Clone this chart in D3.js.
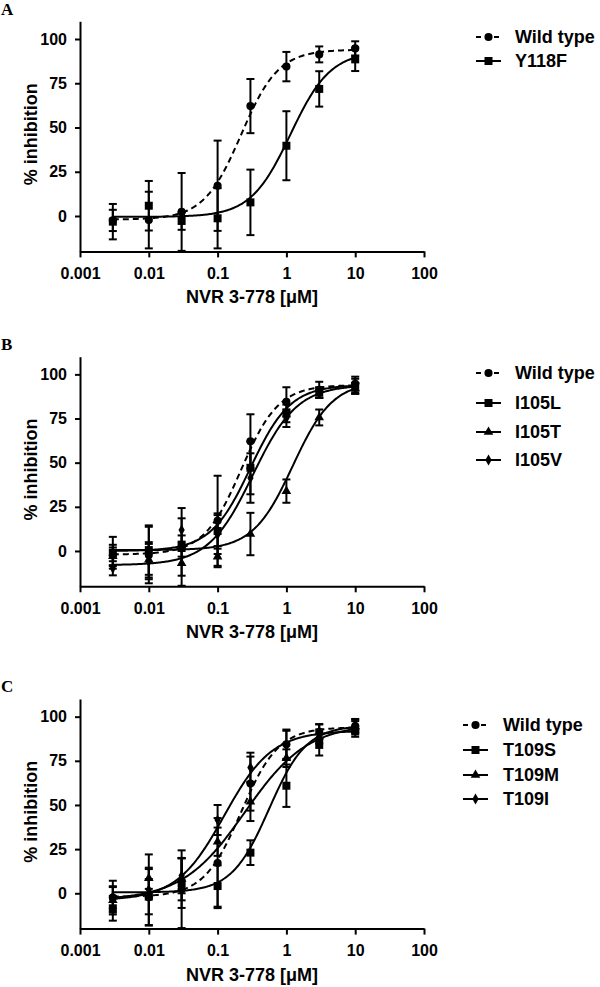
<!DOCTYPE html>
<html><head><meta charset="utf-8">
<script src="https://cdn.jsdelivr.net/npm/d3@7"></script>
<style>body{margin:0;background:#fff}</style>
</head><body><svg id="c" width="600" height="987"></svg>
<script>
// ---------- data ----------
const conc = [0.003, 0.01, 0.03, 0.1, 0.3, 1, 3, 10];
const xTicks = [0.001, 0.01, 0.1, 1, 10, 100];
const xTickLabels = ["0.001", "0.01", "0.1", "1", "10", "100"];
const yTicks = [0, 25, 50, 75, 100];
const panelLabels = ["A", "B", "C"];
const xTitle = "NVR 3-778 [\u03BCM]";
const yTitle = "% inhibition";

const wtMean = [-2.5, -2.3, 2.3, 17.1, 62.1, 84.4, 91.3, 94.7];
const wtErr  = [6, 16, 22, 25.5, 15.3, 8.3, 4.5, 4];
const y118fMean = [-3.2, 5.8, -2.8, -1.3, 7.7, 39.7, 71.8, 88.5];
const y118fErr  = [10, 14, 5, 17, 18.5, 19.5, 10, 6.6];

const i105lMean = [-1, 0.5, 2.8, 11.3, 47.1, 77.9, 89.6, 93.5];
const i105lErr  = [9, 14, 6, 10, 15, 5, 3, 4];
const i105tMean = [-3, -5, -7, -3.2, 9.6, 33.9, 75.6, 92];
const i105tErr  = [5, 10, 7, 6, 12, 6.6, 4.5, 3];
const i105vMean = [-9.8, -6, 11.9, 9.3, 41.3, 75.2, 89.6, 92];
const i105vErr  = [4, 10, 6.6, 11, 14, 5, 3, 3];

const t109sMean = [-8.5, -1.9, 5.7, 4.1, 23, 60.9, 84, 91.6];
const t109sErr  = [7, 10, 14, 11.7, 7, 12, 6, 3];
const t109mMean = [-4, 8.5, 8, 29.2, 51.9, 76.5, 88.8, 94.5];
const t109mErr  = [8, 6, 12, 8, 11, 5, 4, 3];
const t109iMean = [-1.9, 2, 10, 41.5, 71.2, 84, 91.6, 95.4];
const t109iErr  = [9, 20, 10, 8.5, 8.4, 8, 4, 3];

// fitted four-parameter logistic curves (parameters)
const fitNames  = ["Wild type", "Y118F", "I105L", "I105T", "I105V", "T109S", "T109M", "T109I"];
const fitBottom = [-2, -0.5, 0, 0.5, -8, 0.5, -4, -4];
const fitTop    = [94, 93, 94, 96, 94, 95, 96, 92];
const fitEC50   = [0.22, 1.15, 0.30, 1.24, 0.325, 0.56, 0.25, 0.125];
const fitHill   = [1.6, 1.5, 1.5, 1.5, 1.35, 1.6, 0.95, 1.25];

const panelSeries = [
  ["Wild type", "Y118F"],
  ["Wild type", "I105L", "I105T", "I105V"],
  ["Wild type", "T109S", "T109M", "T109I"]
];
const seriesMean = {"Wild type": wtMean, "Y118F": y118fMean, "I105L": i105lMean, "I105T": i105tMean,
  "I105V": i105vMean, "T109S": t109sMean, "T109M": t109mMean, "T109I": t109iMean};
const seriesErr = {"Wild type": wtErr, "Y118F": y118fErr, "I105L": i105lErr, "I105T": i105tErr,
  "I105V": i105vErr, "T109S": t109sErr, "T109M": t109mErr, "T109I": t109iErr};

// ---------- layout ----------
const symCircle = d3.symbol().type(d3.symbolCircle).size(52)();
const symSquare = d3.symbol().type(d3.symbolSquare).size(64)();
const symTri = d3.symbol().type(d3.symbolTriangle).size(40)();
const symDia = d3.symbol().type(d3.symbolDiamond).size(34)();
const markerFor = name => name === "Wild type" ? symCircle :
  /Y118F|I105L|T109S/.test(name) ? symSquare :
  /I105T|T109M/.test(name) ? symTri : symDia;

const panels = [
  {top: 21.3, bottom: 251.4, letterY: 15, legX: 476, legTextX: 515, legY: [37, 61]},
  {top: 356.7, bottom: 586.3, letterY: 350, legX: 476, legTextX: 515, legY: [373, 403, 432, 460]},
  {top: 699, bottom: 928.6, letterY: 692, legX: 463, legTextX: 503, legY: [725, 750, 775, 799]}
];
const xLeft = 80, xRight = 424;
const FONT = "'Liberation Sans', Arial, sans-serif";
const svg = d3.select("#c");
const x = d3.scaleLog().domain([0.001, 100]).range([xLeft, xRight]);
const curveX = d3.range(0, 201).map(i => Math.pow(10, Math.log10(0.003) + i * (Math.log10(10) - Math.log10(0.003)) / 200));

panels.forEach((p, pi) => {
  const g = svg.append("g");
  const y = d3.scaleLinear().domain([-20, 110]).range([p.bottom, p.top]);

  // axes
  const xa = g.append("g").attr("transform", `translate(0,${p.bottom})`)
    .call(d3.axisBottom(x).tickValues(xTicks).tickFormat((d, i) => xTickLabels[i]).tickSize(6).tickSizeOuter(0).tickPadding(10));
  const ya = g.append("g").attr("transform", `translate(${xLeft},0)`)
    .call(d3.axisLeft(y).tickValues(yTicks).tickSize(5).tickSizeOuter(0).tickPadding(8));
  [xa, ya].forEach(a => {
    a.select(".domain").attr("stroke", "#000").attr("stroke-width", 2);
    a.selectAll(".tick line").attr("stroke", "#000").attr("stroke-width", 2);
    a.selectAll(".tick text").attr("fill", "#000").attr("font-family", FONT)
      .attr("font-weight", "bold").attr("font-size", 16);
  });

  // titles
  g.append("text").attr("x", (xLeft + xRight) / 2).attr("y", p.bottom + 52)
    .attr("text-anchor", "middle").attr("font-family", FONT).attr("font-weight", "bold")
    .attr("font-size", 18).text(xTitle);
  g.append("text").attr("transform", `translate(37,${(p.top + p.bottom) / 2 - 2}) rotate(-90)`)
    .attr("text-anchor", "middle").attr("font-family", FONT).attr("font-weight", "bold")
    .attr("font-size", 18).text(yTitle);
  g.append("text").attr("x", 1).attr("y", p.letterY)
    .attr("font-family", "'Liberation Serif', 'Times New Roman', serif").attr("font-weight", "bold")
    .attr("font-size", 17).text(panelLabels[pi]);

  // series
  panelSeries[pi].forEach((name, si) => {
    const fi = fitNames.indexOf(name);
    const f = c => fitBottom[fi] + (fitTop[fi] - fitBottom[fi]) / (1 + Math.pow(fitEC50[fi] / c, fitHill[fi]));
    const dashed = name === "Wild type";
    g.append("path").datum(curveX)
      .attr("d", d3.line().x(c => x(c)).y(c => y(f(c))))
      .attr("fill", "none").attr("stroke", "#000").attr("stroke-width", 2)
      .attr("stroke-dasharray", dashed ? "6,4" : null);

    const mean = seriesMean[name], err = seriesErr[name];
    const eg = g.append("g");
    conc.forEach((c, i) => {
      const cx = x(c), y1 = y(mean[i] + err[i]), y0 = y(Math.max(-20, mean[i] - err[i]));
      eg.append("line").attr("x1", cx).attr("x2", cx).attr("y1", y1).attr("y2", y0)
        .attr("stroke", "#000").attr("stroke-width", 2);
      eg.append("line").attr("x1", cx - 4).attr("x2", cx + 4).attr("y1", y1).attr("y2", y1)
        .attr("stroke", "#000").attr("stroke-width", 2);
      if (mean[i] - err[i] > -20)
        eg.append("line").attr("x1", cx - 4).attr("x2", cx + 4).attr("y1", y0).attr("y2", y0)
          .attr("stroke", "#000").attr("stroke-width", 2);
    });
    g.append("g").selectAll("path").data(conc).join("path")
      .attr("d", markerFor(name))
      .attr("transform", (c, i) => `translate(${x(c)},${y(mean[i])})`)
      .attr("fill", "#000");

    // legend
    const ly = p.legY[si];
    const lg = svg.append("g");
    lg.append("line").attr("x1", p.legX).attr("x2", p.legX + 25).attr("y1", ly).attr("y2", ly)
      .attr("stroke", "#000").attr("stroke-width", 2)
      .attr("stroke-dasharray", dashed ? "5,4" : null);
    lg.append("path").attr("d", markerFor(name)).attr("transform", `translate(${p.legX + 12.5},${ly})`).attr("fill", "#000");
    lg.append("text").attr("x", p.legTextX).attr("y", ly).attr("dy", "0.35em")
      .attr("font-family", FONT).attr("font-weight", "bold").attr("font-size", 18).text(name);
  });
});
</script></body></html>
